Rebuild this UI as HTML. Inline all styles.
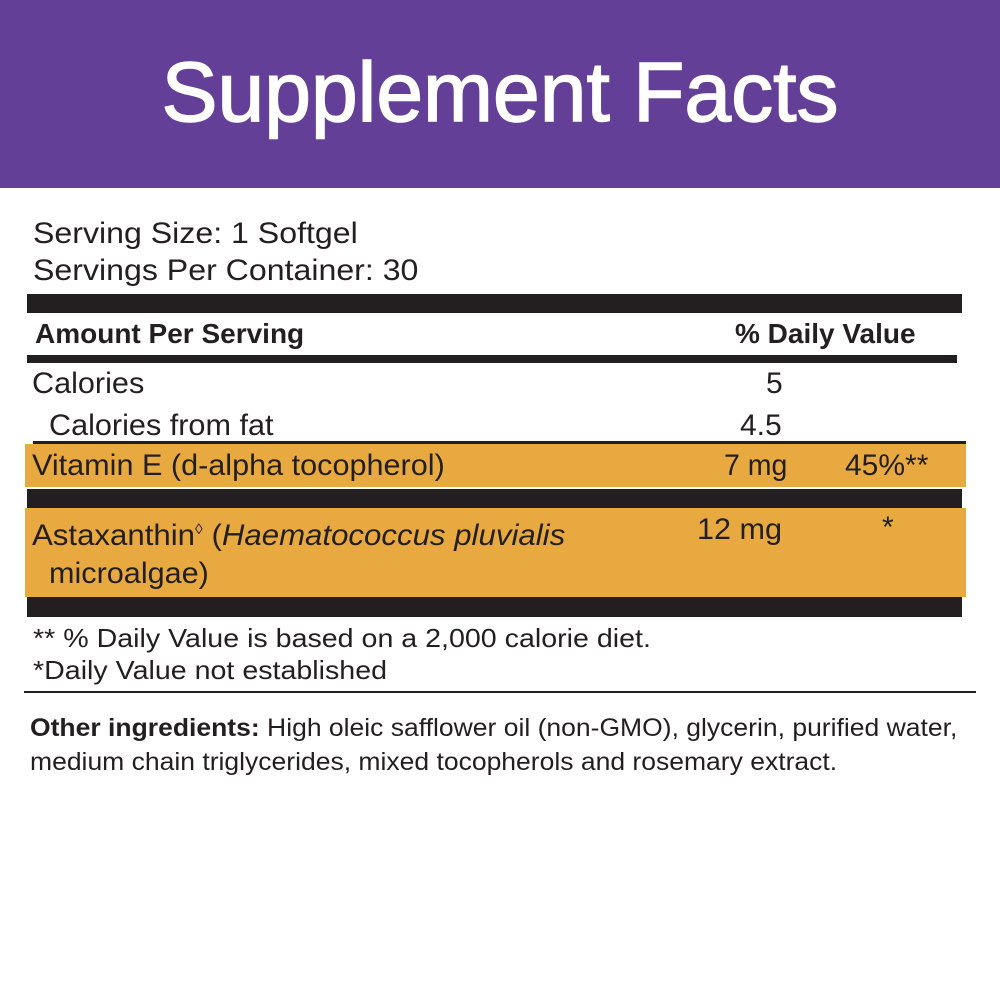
<!DOCTYPE html>
<html><head><meta charset="utf-8"><style>
body{margin:0;width:1000px;height:1000px;background:#fff;position:relative;overflow:hidden;font-family:"Liberation Sans",sans-serif;color:#231f20}
.a{position:absolute;white-space:nowrap;transform-origin:left}
.hdr{position:absolute;left:0;top:0;width:1000px;height:188px;background:#643f97}
.t{position:absolute;left:0;width:1000px;top:42px;text-align:center;color:#fff;font-size:84px;line-height:100px;letter-spacing:0px;transform:scaleX(1.0);-webkit-text-stroke:1.5px #fff}
.bk{position:absolute;background:#231f20}
.or{position:absolute;background:#e8a941}
.f28{font-size:30px;line-height:32px}
</style></head><body>
<div class="hdr"></div>
<div class="t">Supplement Facts</div>
<div class="a f28" style="left:33px;top:218px;transform:scaleX(1.07)">Serving Size: 1 Softgel</div>
<div class="a f28" style="left:33px;top:255px;transform:scaleX(1.07)">Servings Per Container: 30</div>
<div class="bk" style="left:27px;top:294px;width:935px;height:19px"></div>
<div class="a" style="left:35px;top:318px;font-size:28px;font-weight:bold;line-height:32px;transform:scaleX(1.0)">Amount Per Serving</div>
<div class="a" style="left:735px;top:318px;font-size:28px;font-weight:bold;line-height:32px;transform:scaleX(1.0)">% Daily Value</div>
<div class="bk" style="left:27px;top:355px;width:930px;height:8px"></div>
<div class="a f28" style="left:32px;top:368px;transform:scaleX(1.02)">Calories</div>
<div class="a f28" style="left:766px;top:368px">5</div>
<div class="a f28" style="left:49px;top:410px;transform:scaleX(1.02)">Calories from fat</div>
<div class="a f28" style="left:740px;top:410px">4.5</div>
<div class="bk" style="left:33px;top:441px;width:933px;height:3px"></div>
<div class="or" style="left:25px;top:444px;width:941px;height:43px"></div>
<div class="a f28" style="left:32px;top:450px;transform:scaleX(1.02)">Vitamin E (d-alpha tocopherol)</div>
<div class="a f28" style="left:724px;top:450px;transform:scaleX(.95)">7 mg</div>
<div class="a f28" style="left:845px;top:450px;transform:scaleX(1.0)">45%**</div>
<div class="bk" style="left:27px;top:489px;width:935px;height:19px"></div>
<div class="or" style="left:25px;top:508px;width:941px;height:89px"></div>
<div class="a f28" style="left:32px;top:514px;transform:scaleX(1.04)">Astaxanthin<sup style="font-size:15px">◊</sup> (<i>Haematococcus pluvialis</i></div>
<div class="a f28" style="left:697px;top:514px;transform:scaleX(1.02)">12 mg</div>
<div class="a f28" style="left:882px;top:512px">*</div>
<div class="a f28" style="left:49px;top:558px;transform:scaleX(1.02)">microalgae)</div>
<div class="bk" style="left:27px;top:597px;width:935px;height:20px"></div>
<div class="a" style="left:33px;top:623px;font-size:26px;line-height:30px;transform:scaleX(1.1)">** % Daily Value is based on a 2,000 calorie diet.</div>
<div class="a" style="left:33px;top:655px;font-size:26px;line-height:30px;transform:scaleX(1.1)">*Daily Value not established</div>
<div class="bk" style="left:24px;top:691px;width:952px;height:2px"></div>
<div class="a" style="left:30px;top:713px;font-size:25px;line-height:30px;transform:scaleX(1.06)"><b>Other ingredients:</b> High oleic safflower oil (non-GMO), glycerin, purified water,</div>
<div class="a" style="left:30px;top:747px;font-size:25px;line-height:30px;transform:scaleX(1.06)">medium chain triglycerides, mixed tocopherols and rosemary extract.</div>
</body></html>
